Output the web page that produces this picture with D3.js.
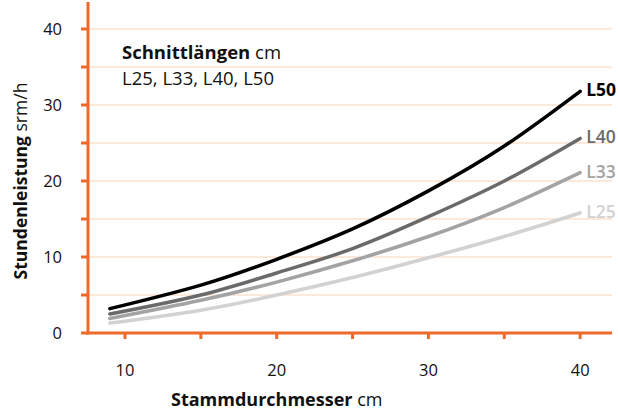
<!DOCTYPE html>
<html lang="de">
<head>
<meta charset="UTF-8">
<title>Stundenleistung</title>
<script src="https://cdnjs.cloudflare.com/ajax/libs/d3/7.8.5/d3.min.js"></script>
<style>
  body { margin: 0; background: #fff; }
  svg { font-family: "Open Sans", "Noto Sans", sans-serif; }
  .tick-label { font-size: 16.5px; fill: #111; }
</style>
</head>
<body>
<div id="chart"></div>
<script>
// Stammdurchmesser (cm)
var diameters = [9, 15, 20, 25, 30, 35, 40];
// Stundenleistung srm/h per Schnittlänge
var L50 = [3.2, 6.3, 9.7, 13.7, 18.7, 24.6, 31.8];
var L40 = [2.5, 5.0, 7.9, 11.1, 15.3, 20.0, 25.6];
var L33 = [1.9, 4.3, 6.7, 9.5, 12.7, 16.5, 21.1];
var L25 = [1.3, 3.0, 5.0, 7.3, 9.9, 12.7, 15.8];
var seriesNames = ["L25", "L33", "L40", "L50"];
var seriesValues = [L25, L33, L40, L50];
var yTicks = [0, 5, 10, 15, 20, 25, 30, 35, 40];
var xTicks = [10, 15, 20, 25, 30, 35, 40];

var width = 618, height = 410;
var orange = "#ee6a2a";
var colors = { L50: "#000000", L40: "#6a6a6a", L33: "#a3a3a3", L25: "#d2d2d2" };

var svg = d3.select("#chart").append("svg")
    .attr("width", width)
    .attr("height", height);

var x = d3.scaleLinear().domain([7.56, 42.1]).range([88, 612]);
var y = d3.scaleLinear().domain([0, 40]).range([333, 29]);

// gridlines
svg.append("g").selectAll("line")
    .data(yTicks.filter(function (d) { return d > 0; }))
    .enter().append("line")
    .attr("x1", 89).attr("x2", 612)
    .attr("y1", function (d) { return y(d); })
    .attr("y2", function (d) { return y(d); })
    .attr("stroke", "#fde2d0")
    .attr("stroke-width", 1.5);

// y axis
svg.append("line")
    .attr("x1", 88).attr("x2", 88).attr("y1", 2).attr("y2", 334.5)
    .attr("stroke", orange).attr("stroke-width", 3);
svg.append("g").selectAll("line")
    .data(yTicks)
    .enter().append("line")
    .attr("x1", 81).attr("x2", 88)
    .attr("y1", function (d) { return y(d); })
    .attr("y2", function (d) { return y(d); })
    .attr("stroke", orange).attr("stroke-width", 3);
svg.append("g").selectAll("text")
    .data(yTicks.filter(function (d) { return d % 10 === 0; }))
    .enter().append("text")
    .attr("class", "tick-label")
    .attr("x", 62)
    .attr("y", function (d) { return y(d) + 6; })
    .attr("text-anchor", "end")
    .text(function (d) { return d; });

// x axis
svg.append("line")
    .attr("x1", 86.5).attr("x2", 612).attr("y1", 333).attr("y2", 333)
    .attr("stroke", orange).attr("stroke-width", 3);
svg.append("g").selectAll("line")
    .data(xTicks)
    .enter().append("line")
    .attr("x1", function (d) { return x(d); })
    .attr("x2", function (d) { return x(d); })
    .attr("y1", 333).attr("y2", 339)
    .attr("stroke", orange).attr("stroke-width", 3);
svg.append("g").selectAll("text")
    .data(xTicks.filter(function (d) { return d % 10 === 0; }))
    .enter().append("text")
    .attr("class", "tick-label")
    .attr("x", function (d) { return x(d); })
    .attr("y", 376)
    .attr("text-anchor", "middle")
    .text(function (d) { return d; });

// axis titles
var xt = svg.append("text")
    .attr("x", x(20)).attr("y", 406)
    .attr("text-anchor", "middle")
    .attr("font-size", 18).attr("fill", "#111");
xt.append("tspan").attr("font-weight", "bold").text("Stammdurchmesser");
xt.append("tspan").text(" cm");

var yt = svg.append("text")
    .attr("transform", "translate(27," + y(20) + ") rotate(-90)")
    .attr("text-anchor", "middle")
    .attr("font-size", 17.5).attr("fill", "#111");
yt.append("tspan").attr("font-weight", "bold").text("Stundenleistung");
yt.append("tspan").text(" srm/h");

// legend text
var lg = svg.append("text").attr("x", 122).attr("y", 59)
    .attr("font-size", 18.5).attr("fill", "#111");
lg.append("tspan").attr("font-weight", "bold").text("Schnittlängen");
lg.append("tspan").text(" cm");
svg.append("text").attr("x", 122).attr("y", 85)
    .attr("font-size", 18.5).attr("fill", "#111")
    .text(seriesNames.join(", "));

// curves
var line = d3.line()
    .x(function (d) { return x(d[0]); })
    .y(function (d) { return y(d[1]); })
    .curve(d3.curveNatural);

seriesNames.forEach(function (name, i) {
    var pts = diameters.map(function (dia, j) { return [dia, seriesValues[i][j]]; });
    svg.append("path")
        .datum(pts)
        .attr("fill", "none")
        .attr("stroke", colors[name])
        .attr("stroke-width", 3.5)
        .attr("stroke-linecap", "round")
        .attr("d", line);
    var last = pts[pts.length - 1];
    svg.append("text")
        .attr("x", x(last[0]) + 6)
        .attr("y", y(last[1]) + 5)
        .attr("font-size", 17.5)
        .attr("font-weight", name === "L50" ? "bold" : 600)
        .attr("fill", colors[name])
        .text(name);
});
</script>
</body>
</html>
